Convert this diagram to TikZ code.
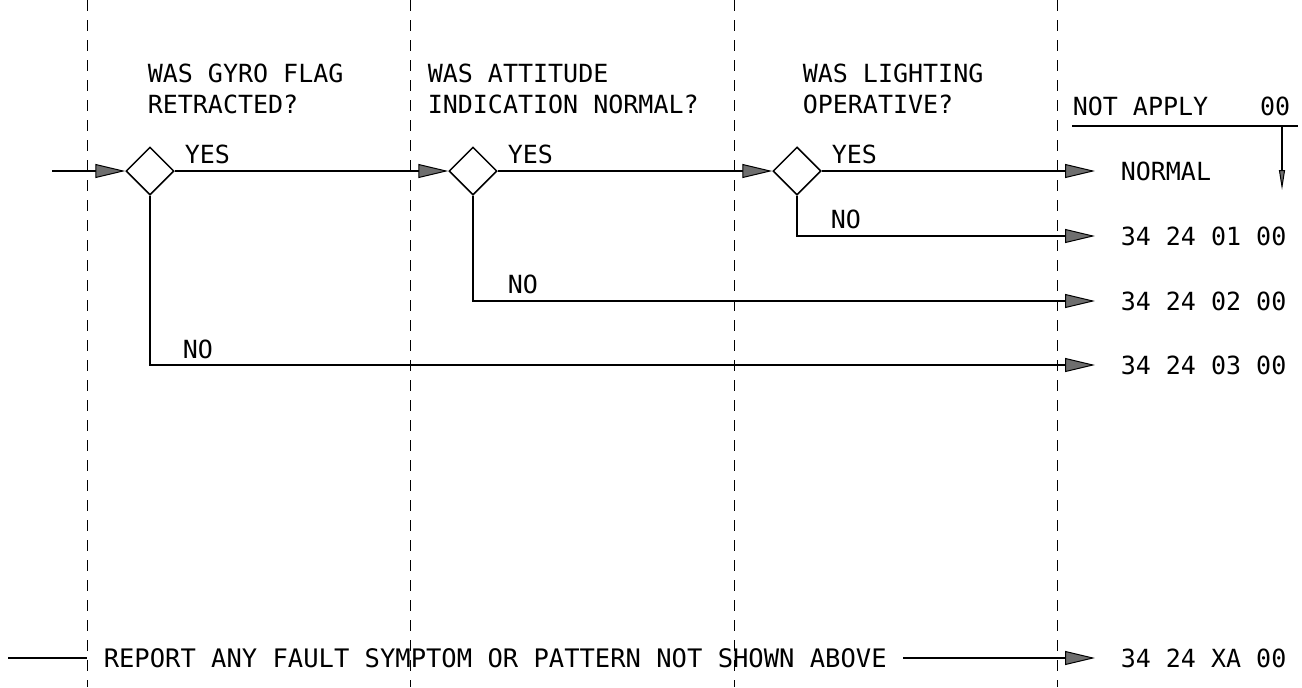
\documentclass[tikz,border=0pt]{standalone}
\usepackage{fontspec}
\setmonofont{DejaVu Sans Mono}
\usetikzlibrary{shapes.geometric,arrows.meta}
\definecolor{hatch}{RGB}{110,110,110}

\begin{document}
\begin{tikzpicture}[x=0.5pt,y=-0.5pt,line width=0.75pt,
  font=\ttfamily\fontsize{12.5pt}{15.5pt}\selectfont,
  lbl/.style={anchor=base west,inner sep=0pt,align=left},
  dia/.style={draw,diamond,shape aspect=1,minimum size=24pt,inner sep=0pt},
  outp/.style={anchor=west,inner xsep=12.5pt,inner ysep=0pt},
  flow/.style={-{Triangle[length=15pt,width=7pt,fill=hatch,line width=0.5pt]}},
  sep/.style={line width=0.5pt,dash pattern=on 5.5pt off 4.5pt}]
  \useasboundingbox (0,0) rectangle (1302,687);
  \draw[sep] (87,0) -- (87,687);
  \draw[sep] (410,0) -- (410,687);
  \draw[sep] (734,0) -- (734,687);
  \draw[sep] (1057,0) -- (1057,687);

  \node[lbl] (h1) at (147,113) {WAS GYRO FLAG\\RETRACTED?};
  \node[lbl] (h2) at (427,113) {WAS ATTITUDE\\INDICATION NORMAL?};
  \node[lbl] (h3) at (802,113) {WAS LIGHTING\\OPERATIVE?};
  \node[lbl] (na) at (1072,115) {NOT APPLY};
  \node[anchor=base east,inner sep=0pt] (naz) at (1291,115) {00};
  \coordinate (ul) at (1072,126);
  \coordinate (ur) at (1298,126);
  \coordinate (dtop) at (1282,126);
  \coordinate (dbot) at (1282,190);
  \draw (ul) -- (ur);
  \draw[-{Triangle[length=10pt,width=3pt,fill=hatch,line width=0.5pt]}] (dtop) -- (dbot);

  \coordinate (in) at (52,171);
  \node[dia] (q1) at (150,171) {};
  \node[dia] (q2) at (473,171) {};
  \node[dia] (q3) at (797,171) {};
  \node[outp] (onorm) at (1095,171) {NORMAL};
  \node[outp] (o1) at (1095,236) {34 24 01 00};
  \node[outp] (o2) at (1095,301) {34 24 02 00};
  \node[outp] (o3) at (1095,365) {34 24 03 00};
  \node[outp] (oxa) at (1095,658) {34 24 XA 00};

  \node[lbl] (y1) at (184,163) {YES};
  \node[lbl] (y2) at (507,163) {YES};
  \node[lbl] (y3) at (831,163) {YES};
  \node[lbl] (n3) at (830,228) {NO};
  \node[lbl] (n2) at (507,293) {NO};
  \node[lbl] (n1) at (182,358) {NO};

  \draw[flow] (in) -- (q1.west);
  \draw[flow] (q1.east) -- (q2.west);
  \draw[flow] (q2.east) -- (q3.west);
  \draw[flow] (q3.east) -- (onorm.west);
  \draw[flow] (q3.south) |- (o1.west);
  \draw[flow] (q2.south) |- (o2.west);
  \draw[flow] (q1.south) |- (o3.west);

  \coordinate (rin) at (8,658);
  \node[anchor=west,inner xsep=8pt,inner ysep=0pt,font=\ttfamily\fontsize{12.75pt}{15.5pt}\selectfont] (report) at (87,658) {REPORT ANY FAULT SYMPTOM OR PATTERN NOT SHOWN ABOVE};
  \draw (rin) -- (report.west);
  \draw[flow] (report.east) -- (oxa.west);
\end{tikzpicture}
\end{document}
